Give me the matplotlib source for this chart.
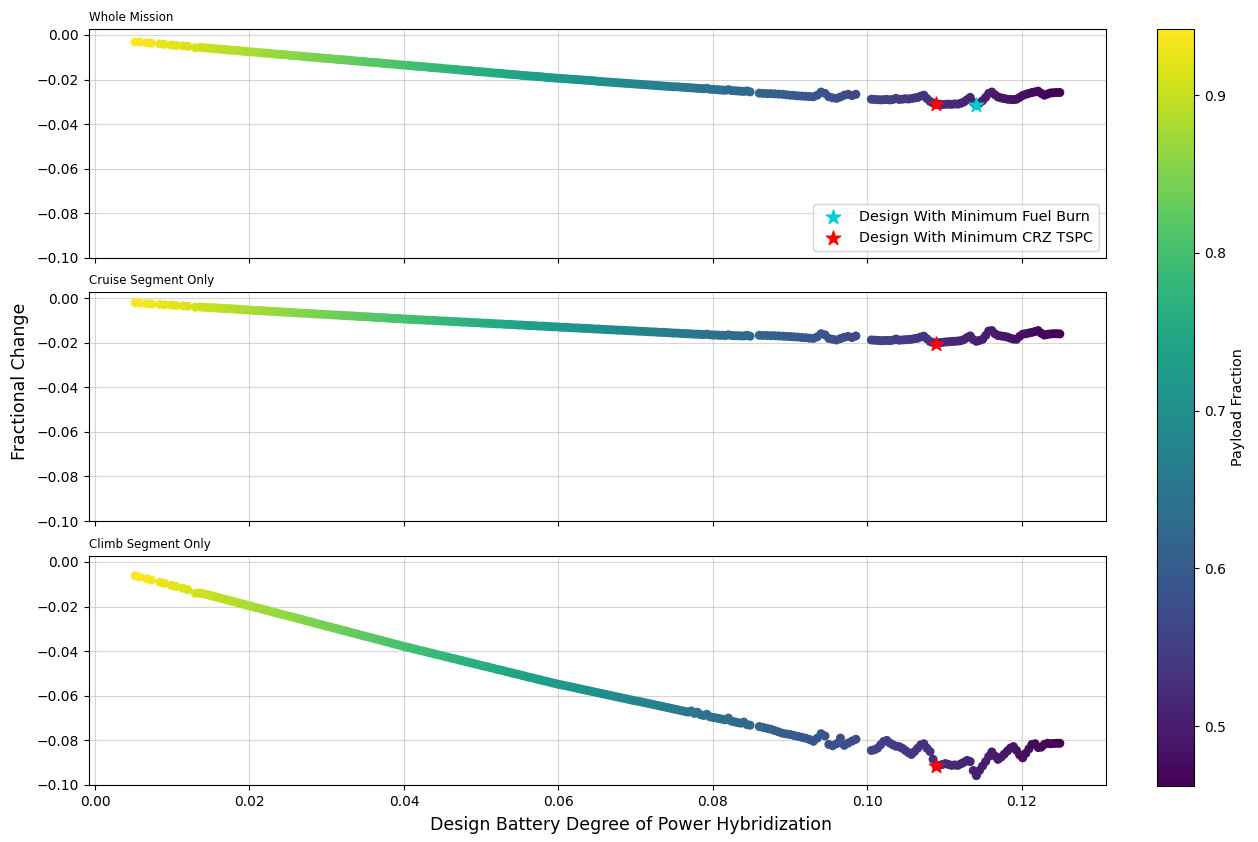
import numpy as np
import matplotlib
matplotlib.use("Agg")
import matplotlib.pyplot as plt

# design battery degree of power hybridization, one entry per design
dohp = [
    0.0052, 0.0058, 0.0067, 0.0073, 0.0084, 0.0090, 0.0099, 0.0105, 0.0114, 0.0120, 0.0130, 0.0136,
    0.0140, 0.0144, 0.0148, 0.0152, 0.0156, 0.0160, 0.0164, 0.0168, 0.0172, 0.0176,
    0.0180, 0.0184, 0.0188, 0.0192, 0.0196, 0.0200, 0.0204, 0.0208, 0.0212, 0.0216,
    0.0220, 0.0224, 0.0228, 0.0232, 0.0236, 0.0240, 0.0244, 0.0248, 0.0252, 0.0256,
    0.0260, 0.0264, 0.0268, 0.0272, 0.0276, 0.0280, 0.0284, 0.0288, 0.0292, 0.0296,
    0.0300, 0.0304, 0.0308, 0.0312, 0.0316, 0.0320, 0.0324, 0.0328, 0.0332, 0.0336,
    0.0340, 0.0344, 0.0348, 0.0352, 0.0356, 0.0360, 0.0364, 0.0368, 0.0372, 0.0376,
    0.0380, 0.0384, 0.0388, 0.0392, 0.0396, 0.0400, 0.0404, 0.0408, 0.0412, 0.0416,
    0.0420, 0.0424, 0.0428, 0.0432, 0.0436, 0.0440, 0.0444, 0.0448, 0.0452, 0.0456,
    0.0460, 0.0464, 0.0468, 0.0472, 0.0476, 0.0480, 0.0484, 0.0488, 0.0492, 0.0496,
    0.0500, 0.0504, 0.0508, 0.0512, 0.0516, 0.0520, 0.0524, 0.0528, 0.0532, 0.0536,
    0.0540, 0.0544, 0.0548, 0.0552, 0.0556, 0.0560, 0.0564, 0.0568, 0.0572, 0.0576,
    0.0580, 0.0584, 0.0588, 0.0592, 0.0596, 0.0600, 0.0604, 0.0608, 0.0612, 0.0616,
    0.0620, 0.0624, 0.0628, 0.0632, 0.0636, 0.0640, 0.0644, 0.0648, 0.0652, 0.0656,
    0.0660, 0.0664, 0.0668, 0.0672, 0.0676, 0.0680, 0.0684, 0.0688, 0.0692, 0.0696,
    0.0700, 0.0704, 0.0708, 0.0712, 0.0716, 0.0720, 0.0724, 0.0728, 0.0732, 0.0736,
    0.0740, 0.0744, 0.0748, 0.0752, 0.0756, 0.0760, 0.0764, 0.0768, 0.0772, 0.0776,
    0.0780, 0.0784, 0.0788, 0.0792, 0.0796, 0.0800, 0.0804, 0.0808, 0.0812, 0.0816,
    0.0820, 0.0824, 0.0828, 0.0832, 0.0836, 0.0840, 0.0844, 0.0848,
    0.0860, 0.0865, 0.0870, 0.0875, 0.0880, 0.0885, 0.0890, 0.0895, 0.0900, 0.0905,
    0.0910, 0.0915, 0.0920, 0.0925, 0.0930, 0.0935, 0.0940, 0.0945, 0.0950, 0.0955,
    0.0960, 0.0965, 0.0970, 0.0975, 0.0980, 0.0985,
    0.1005, 0.1009, 0.1013, 0.1017, 0.1021, 0.1025, 0.1029, 0.1033, 0.1037, 0.1041,
    0.1045, 0.1049, 0.1053, 0.1057, 0.1061, 0.1065, 0.1069, 0.1073, 0.1077, 0.1081,
    0.1085, 0.1089, 0.1093, 0.1097, 0.1101, 0.1105, 0.1109, 0.1113, 0.1117, 0.1121,
    0.1125, 0.1129, 0.1133, 0.1137, 0.1141, 0.1145, 0.1149, 0.1153, 0.1157, 0.1161,
    0.1165, 0.1169, 0.1173, 0.1177, 0.1181, 0.1185, 0.1189, 0.1193, 0.1197, 0.1201,
    0.1205, 0.1209, 0.1213, 0.1217, 0.1221, 0.1225, 0.1229, 0.1233, 0.1237, 0.1241,
    0.1245, 0.1249,
]

# fractional change vs baseline, whole mission
frac_whole = [
    -0.0031, -0.0032, -0.0035, -0.0037, -0.0040, -0.0042, -0.0045, -0.0047, -0.0049, -0.0051, -0.0057, -0.0056,
    -0.0057, -0.0058, -0.0059, -0.0061, -0.0062, -0.0063, -0.0064, -0.0065, -0.0067, -0.0068,
    -0.0069, -0.0070, -0.0071, -0.0073, -0.0074, -0.0075, -0.0076, -0.0077, -0.0079, -0.0080,
    -0.0081, -0.0082, -0.0083, -0.0085, -0.0086, -0.0087, -0.0088, -0.0089, -0.0091, -0.0092,
    -0.0093, -0.0094, -0.0095, -0.0097, -0.0098, -0.0099, -0.0100, -0.0101, -0.0103, -0.0104,
    -0.0105, -0.0106, -0.0107, -0.0109, -0.0110, -0.0111, -0.0112, -0.0113, -0.0115, -0.0116,
    -0.0117, -0.0118, -0.0119, -0.0121, -0.0122, -0.0123, -0.0124, -0.0125, -0.0127, -0.0128,
    -0.0129, -0.0130, -0.0131, -0.0133, -0.0134, -0.0135, -0.0136, -0.0137, -0.0139, -0.0140,
    -0.0141, -0.0142, -0.0143, -0.0145, -0.0146, -0.0147, -0.0148, -0.0149, -0.0151, -0.0152,
    -0.0153, -0.0154, -0.0155, -0.0157, -0.0158, -0.0159, -0.0160, -0.0161, -0.0163, -0.0164,
    -0.0165, -0.0166, -0.0167, -0.0169, -0.0170, -0.0171, -0.0172, -0.0173, -0.0175, -0.0176,
    -0.0177, -0.0178, -0.0179, -0.0181, -0.0182, -0.0183, -0.0184, -0.0185, -0.0186, -0.0187,
    -0.0188, -0.0190, -0.0191, -0.0192, -0.0193, -0.0194, -0.0195, -0.0196, -0.0197, -0.0198,
    -0.0199, -0.0200, -0.0201, -0.0202, -0.0203, -0.0204, -0.0205, -0.0206, -0.0208, -0.0209,
    -0.0210, -0.0211, -0.0212, -0.0213, -0.0214, -0.0215, -0.0216, -0.0217, -0.0218, -0.0219,
    -0.0220, -0.0221, -0.0222, -0.0223, -0.0224, -0.0225, -0.0226, -0.0227, -0.0228, -0.0229,
    -0.0230, -0.0231, -0.0232, -0.0232, -0.0233, -0.0234, -0.0235, -0.0236, -0.0237, -0.0238,
    -0.0239, -0.0240, -0.0241, -0.0239, -0.0243, -0.0244, -0.0245, -0.0246, -0.0247, -0.0248,
    -0.0245, -0.0249, -0.0250, -0.0251, -0.0252, -0.0253, -0.0251, -0.0255,
    -0.0261, -0.0262, -0.0263, -0.0263, -0.0264, -0.0265, -0.0266, -0.0268, -0.0270, -0.0271,
    -0.0273, -0.0274, -0.0275, -0.0276, -0.0277, -0.0270, -0.0256, -0.0262, -0.0277, -0.0282,
    -0.0284, -0.0278, -0.0270, -0.0266, -0.0272, -0.0266,
    -0.0288, -0.0289, -0.0290, -0.0291, -0.0290, -0.0289, -0.0291, -0.0289, -0.0284, -0.0289,
    -0.0288, -0.0286, -0.0287, -0.0285, -0.0282, -0.0280, -0.0274, -0.0270, -0.0285, -0.0298,
    -0.0305, -0.0311, -0.0310, -0.0312, -0.0311, -0.0310, -0.0311, -0.0309, -0.0310, -0.0306,
    -0.0300, -0.0290, -0.0280, -0.0302, -0.0315, -0.0305, -0.0295, -0.0280, -0.0262, -0.0256,
    -0.0268, -0.0278, -0.0282, -0.0285, -0.0288, -0.0289, -0.0290, -0.0288, -0.0280, -0.0271,
    -0.0266, -0.0262, -0.0258, -0.0255, -0.0252, -0.0262, -0.0270, -0.0265, -0.0260, -0.0259,
    -0.0258, -0.0258,
]

# fractional change vs baseline, cruise segment only
frac_cruise = [
    -0.0022, -0.0023, -0.0025, -0.0027, -0.0029, -0.0030, -0.0032, -0.0033, -0.0035, -0.0037, -0.0041, -0.0040,
    -0.0041, -0.0042, -0.0043, -0.0043, -0.0044, -0.0045, -0.0046, -0.0047, -0.0048, -0.0048,
    -0.0049, -0.0050, -0.0051, -0.0052, -0.0053, -0.0054, -0.0055, -0.0056, -0.0056, -0.0057,
    -0.0058, -0.0059, -0.0060, -0.0060, -0.0061, -0.0062, -0.0063, -0.0064, -0.0064, -0.0065,
    -0.0066, -0.0067, -0.0068, -0.0068, -0.0069, -0.0070, -0.0071, -0.0072, -0.0072, -0.0073,
    -0.0074, -0.0075, -0.0076, -0.0076, -0.0077, -0.0078, -0.0079, -0.0080, -0.0080, -0.0081,
    -0.0082, -0.0083, -0.0084, -0.0084, -0.0085, -0.0086, -0.0087, -0.0088, -0.0088, -0.0089,
    -0.0090, -0.0091, -0.0092, -0.0092, -0.0093, -0.0094, -0.0095, -0.0095, -0.0096, -0.0097,
    -0.0098, -0.0098, -0.0099, -0.0100, -0.0100, -0.0101, -0.0102, -0.0103, -0.0103, -0.0104,
    -0.0105, -0.0106, -0.0106, -0.0107, -0.0108, -0.0108, -0.0109, -0.0110, -0.0111, -0.0111,
    -0.0112, -0.0113, -0.0113, -0.0114, -0.0115, -0.0116, -0.0116, -0.0117, -0.0118, -0.0118,
    -0.0119, -0.0120, -0.0121, -0.0121, -0.0122, -0.0123, -0.0124, -0.0124, -0.0125, -0.0126,
    -0.0126, -0.0127, -0.0128, -0.0129, -0.0129, -0.0130, -0.0131, -0.0131, -0.0132, -0.0133,
    -0.0134, -0.0134, -0.0135, -0.0136, -0.0136, -0.0137, -0.0138, -0.0139, -0.0139, -0.0140,
    -0.0141, -0.0142, -0.0142, -0.0143, -0.0144, -0.0144, -0.0145, -0.0146, -0.0147, -0.0147,
    -0.0148, -0.0149, -0.0149, -0.0150, -0.0151, -0.0152, -0.0152, -0.0153, -0.0154, -0.0154,
    -0.0155, -0.0156, -0.0157, -0.0157, -0.0158, -0.0159, -0.0160, -0.0160, -0.0161, -0.0162,
    -0.0162, -0.0163, -0.0164, -0.0162, -0.0165, -0.0166, -0.0166, -0.0167, -0.0167, -0.0168,
    -0.0165, -0.0168, -0.0169, -0.0169, -0.0170, -0.0170, -0.0167, -0.0171,
    -0.0167, -0.0168, -0.0168, -0.0169, -0.0169, -0.0170, -0.0171, -0.0172, -0.0173, -0.0174,
    -0.0175, -0.0177, -0.0178, -0.0180, -0.0181, -0.0174, -0.0160, -0.0165, -0.0181, -0.0185,
    -0.0188, -0.0182, -0.0176, -0.0172, -0.0177, -0.0170,
    -0.0188, -0.0189, -0.0190, -0.0191, -0.0191, -0.0190, -0.0191, -0.0189, -0.0184, -0.0189,
    -0.0188, -0.0187, -0.0186, -0.0185, -0.0182, -0.0180, -0.0175, -0.0171, -0.0183, -0.0195,
    -0.0200, -0.0205, -0.0200, -0.0199, -0.0197, -0.0196, -0.0195, -0.0194, -0.0193, -0.0191,
    -0.0186, -0.0177, -0.0170, -0.0186, -0.0194, -0.0190, -0.0185, -0.0168, -0.0148, -0.0146,
    -0.0160, -0.0168, -0.0170, -0.0172, -0.0175, -0.0180, -0.0184, -0.0185, -0.0172, -0.0162,
    -0.0160, -0.0157, -0.0154, -0.0150, -0.0146, -0.0158, -0.0166, -0.0163, -0.0161, -0.0160,
    -0.0160, -0.0161,
]

# fractional change vs baseline, climb segment only
frac_climb = [
    -0.0062, -0.0067, -0.0075, -0.0081, -0.0091, -0.0096, -0.0105, -0.0110, -0.0118, -0.0124, -0.0140, -0.0139,
    -0.0142, -0.0146, -0.0149, -0.0153, -0.0156, -0.0160, -0.0164, -0.0167, -0.0171, -0.0175,
    -0.0178, -0.0182, -0.0186, -0.0189, -0.0193, -0.0197, -0.0200, -0.0204, -0.0207, -0.0211,
    -0.0215, -0.0218, -0.0222, -0.0226, -0.0229, -0.0233, -0.0237, -0.0240, -0.0244, -0.0247,
    -0.0251, -0.0255, -0.0258, -0.0262, -0.0266, -0.0269, -0.0273, -0.0277, -0.0280, -0.0284,
    -0.0288, -0.0291, -0.0295, -0.0298, -0.0302, -0.0306, -0.0309, -0.0313, -0.0317, -0.0320,
    -0.0324, -0.0328, -0.0331, -0.0335, -0.0338, -0.0342, -0.0346, -0.0349, -0.0353, -0.0357,
    -0.0360, -0.0364, -0.0368, -0.0371, -0.0375, -0.0379, -0.0382, -0.0385, -0.0389, -0.0392,
    -0.0396, -0.0399, -0.0402, -0.0406, -0.0409, -0.0413, -0.0416, -0.0419, -0.0423, -0.0426,
    -0.0430, -0.0433, -0.0436, -0.0440, -0.0443, -0.0447, -0.0450, -0.0453, -0.0457, -0.0460,
    -0.0464, -0.0467, -0.0470, -0.0474, -0.0477, -0.0481, -0.0484, -0.0487, -0.0491, -0.0494,
    -0.0498, -0.0501, -0.0504, -0.0508, -0.0511, -0.0515, -0.0518, -0.0521, -0.0525, -0.0528,
    -0.0532, -0.0535, -0.0538, -0.0542, -0.0545, -0.0549, -0.0551, -0.0554, -0.0557, -0.0560,
    -0.0563, -0.0566, -0.0569, -0.0572, -0.0575, -0.0578, -0.0581, -0.0584, -0.0587, -0.0590,
    -0.0593, -0.0596, -0.0599, -0.0602, -0.0605, -0.0608, -0.0611, -0.0614, -0.0617, -0.0620,
    -0.0623, -0.0625, -0.0628, -0.0631, -0.0634, -0.0637, -0.0640, -0.0643, -0.0646, -0.0649,
    -0.0652, -0.0655, -0.0658, -0.0661, -0.0664, -0.0667, -0.0670, -0.0673, -0.0668, -0.0679,
    -0.0674, -0.0685, -0.0688, -0.0683, -0.0694, -0.0697, -0.0699, -0.0702, -0.0705, -0.0708,
    -0.0700, -0.0714, -0.0717, -0.0720, -0.0723, -0.0718, -0.0729, -0.0732,
    -0.0738, -0.0742, -0.0746, -0.0750, -0.0756, -0.0762, -0.0768, -0.0771, -0.0774, -0.0778,
    -0.0782, -0.0786, -0.0790, -0.0796, -0.0804, -0.0790, -0.0770, -0.0780, -0.0818, -0.0824,
    -0.0815, -0.0790, -0.0822, -0.0812, -0.0803, -0.0795,
    -0.0845, -0.0842, -0.0835, -0.0820, -0.0805, -0.0800, -0.0812, -0.0820, -0.0826, -0.0828,
    -0.0835, -0.0845, -0.0855, -0.0863, -0.0850, -0.0835, -0.0820, -0.0815, -0.0835, -0.0850,
    -0.0885, -0.0915, -0.0912, -0.0908, -0.0904, -0.0908, -0.0912, -0.0910, -0.0912, -0.0905,
    -0.0898, -0.0890, -0.0895, -0.0935, -0.0958, -0.0935, -0.0915, -0.0895, -0.0872, -0.0852,
    -0.0870, -0.0885, -0.0875, -0.0862, -0.0848, -0.0835, -0.0828, -0.0845, -0.0865, -0.0878,
    -0.0858, -0.0838, -0.0818, -0.0815, -0.0832, -0.0830, -0.0818, -0.0813, -0.0815, -0.0814,
    -0.0813, -0.0813,
]

# payload fraction of each design (colour scale)
payload_frac = [
    0.942, 0.939, 0.935, 0.933, 0.928, 0.926, 0.922, 0.920, 0.916, 0.914, 0.910, 0.908,
    0.9060, 0.9044, 0.9028, 0.9012, 0.8996, 0.8980, 0.8964, 0.8948, 0.8932, 0.8916,
    0.8900, 0.8884, 0.8868, 0.8852, 0.8836, 0.8820, 0.8804, 0.8788, 0.8772, 0.8756,
    0.8740, 0.8724, 0.8708, 0.8692, 0.8676, 0.8660, 0.8644, 0.8628, 0.8612, 0.8596,
    0.8580, 0.8564, 0.8548, 0.8532, 0.8516, 0.8500, 0.8484, 0.8468, 0.8452, 0.8436,
    0.8420, 0.8404, 0.8388, 0.8372, 0.8356, 0.8340, 0.8324, 0.8308, 0.8292, 0.8276,
    0.8260, 0.8244, 0.8228, 0.8212, 0.8196, 0.8180, 0.8164, 0.8148, 0.8132, 0.8116,
    0.8100, 0.8084, 0.8068, 0.8052, 0.8036, 0.8020, 0.8004, 0.7988, 0.7972, 0.7956,
    0.7940, 0.7924, 0.7908, 0.7892, 0.7876, 0.7860, 0.7844, 0.7828, 0.7812, 0.7796,
    0.7780, 0.7764, 0.7748, 0.7732, 0.7716, 0.7700, 0.7684, 0.7668, 0.7652, 0.7636,
    0.7620, 0.7604, 0.7588, 0.7572, 0.7556, 0.7540, 0.7524, 0.7508, 0.7492, 0.7476,
    0.7460, 0.7444, 0.7428, 0.7412, 0.7396, 0.7380, 0.7364, 0.7348, 0.7332, 0.7316,
    0.7300, 0.7284, 0.7268, 0.7252, 0.7236, 0.7220, 0.7204, 0.7188, 0.7172, 0.7156,
    0.7140, 0.7124, 0.7108, 0.7092, 0.7076, 0.7060, 0.7044, 0.7028, 0.7012, 0.6996,
    0.6980, 0.6964, 0.6948, 0.6932, 0.6916, 0.6900, 0.6884, 0.6868, 0.6852, 0.6836,
    0.6820, 0.6804, 0.6788, 0.6772, 0.6756, 0.6740, 0.6724, 0.6708, 0.6692, 0.6676,
    0.6660, 0.6644, 0.6628, 0.6612, 0.6596, 0.6580, 0.6564, 0.6548, 0.6532, 0.6516,
    0.6500, 0.6484, 0.6468, 0.6452, 0.6436, 0.6420, 0.6404, 0.6388, 0.6372, 0.6356,
    0.6340, 0.6324, 0.6308, 0.6292, 0.6276, 0.6260, 0.6244, 0.6228,
    0.618, 0.616, 0.614, 0.612, 0.610, 0.608, 0.606, 0.604, 0.602, 0.600,
    0.598, 0.596, 0.594, 0.592, 0.590, 0.588, 0.586, 0.584, 0.582, 0.580,
    0.578, 0.576, 0.574, 0.572, 0.570, 0.568,
    0.560, 0.558, 0.557, 0.555, 0.554, 0.552, 0.550, 0.549, 0.547, 0.546,
    0.544, 0.542, 0.541, 0.539, 0.538, 0.536, 0.534, 0.533, 0.531, 0.530,
    0.528, 0.526, 0.525, 0.523, 0.522, 0.520, 0.518, 0.517, 0.515, 0.514,
    0.512, 0.510, 0.509, 0.507, 0.506, 0.504, 0.502, 0.501, 0.499, 0.498,
    0.496, 0.494, 0.493, 0.491, 0.490, 0.488, 0.486, 0.485, 0.483, 0.482,
    0.480, 0.478, 0.477, 0.475, 0.474, 0.472, 0.470, 0.469, 0.467, 0.466,
    0.464, 0.462,
]

titles = ["Whole Mission", "Cruise Segment Only", "Climb Segment Only"]

x = np.array(dohp)
series = [np.array(frac_whole), np.array(frac_cruise), np.array(frac_climb)]
pf = np.array(payload_frac)

# best designs: lowest whole-mission fuel burn, lowest cruise TSPC
i_fuel = int(np.argmin(series[0]))
i_tspc = int(np.argmin(series[1]))

fig = plt.figure(figsize=(12.58, 8.42), dpi=100)
boxes = [[0.0707, 0.6936, 0.8085, 0.2720],
         [0.0707, 0.3812, 0.8085, 0.2720],
         [0.0707, 0.0677, 0.8085, 0.2720]]

axes = []
for k, (ys, title) in enumerate(zip(series, titles)):
    ax = fig.add_axes(boxes[k], sharex=axes[0] if axes else None)
    sc = ax.scatter(x, ys, c=pf, cmap='viridis', s=30, zorder=2)
    if k == 0:
        ax.scatter(x[i_fuel], ys[i_fuel], marker='*', s=115, color='darkturquoise',
                   zorder=3, label='Design With Minimum Fuel Burn')
    ax.scatter(x[i_tspc], ys[i_tspc], marker='*', s=115, color='red',
               zorder=3, label='Design With Minimum CRZ TSPC')
    ax.set_title(title, loc='left', fontsize=8.5)
    ax.set_ylim(-0.1, 0.0027)
    ax.set_yticks([0.0, -0.02, -0.04, -0.06, -0.08, -0.10])
    ax.grid(True, alpha=0.5)
    if k < 2:
        ax.tick_params(labelbottom=False)
    axes.append(ax)

axes[0].legend(loc='lower right', fontsize=10.4)
axes[2].set_xticks([0.0, 0.02, 0.04, 0.06, 0.08, 0.10, 0.12])

fig.text(0.5015, 0.009, 'Design Battery Degree of Power Hybridization', ha='center', va='bottom', fontsize=12.5)
fig.text(0.009, 0.547, 'Fractional Change', rotation=90, ha='left', va='center', fontsize=12.5)

cax = fig.add_axes([0.9197, 0.0665, 0.0294, 0.8991])
cb = fig.colorbar(sc, cax=cax)
cb.set_label('Payload Fraction', fontsize=10.4)

fig.savefig('out.png', dpi=100)
